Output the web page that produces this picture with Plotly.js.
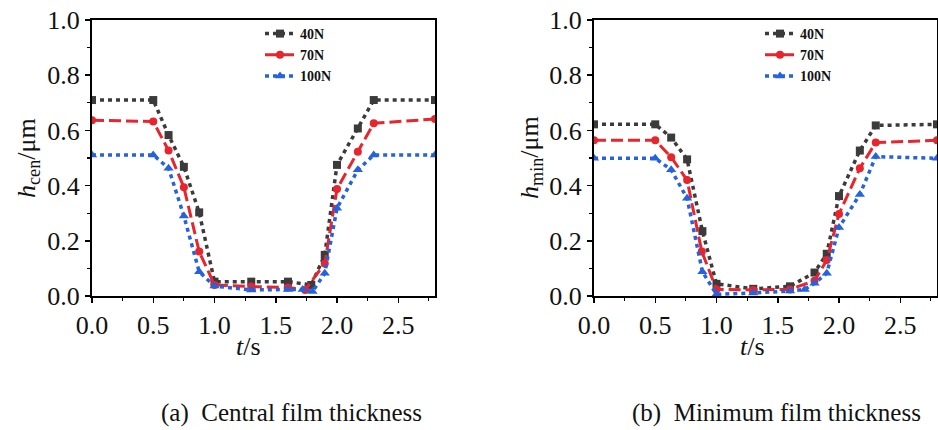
<!DOCTYPE html>
<html>
<head>
<meta charset="utf-8">
<script src="https://cdn.plot.ly/plotly-3.0.1.min.js"></script>
<style>html,body{margin:0;padding:0;background:#fff;}#chart{width:938px;height:430px;}</style>
</head>
<body>
<div id="chart"></div>
<script>
// Series names
const seriesNames = ["40N", "70N", "100N"];

// (a) Central film thickness h_cen (µm) vs t (s)
const tCen40 = [0, 0.5, 0.625, 0.75, 0.875, 1.0, 1.3, 1.6, 1.79, 1.9, 2.0, 2.17, 2.3, 2.8];
const hCen40 = [0.71, 0.71, 0.583, 0.468, 0.303, 0.052, 0.052, 0.052, 0.04, 0.149, 0.475, 0.607, 0.71, 0.71];
const tCen70 = [0, 0.5, 0.625, 0.75, 0.875, 1.0, 1.3, 1.6, 1.74, 1.9, 2.0, 2.17, 2.3, 2.8];
const hCen70 = [0.637, 0.632, 0.527, 0.394, 0.161, 0.04, 0.034, 0.031, 0.022, 0.118, 0.388, 0.523, 0.626, 0.641];
const tCen100 = [0, 0.5, 0.625, 0.75, 0.875, 1.0, 1.3, 1.6, 1.72, 1.8, 1.9, 2.0, 2.17, 2.3, 2.8];
const hCen100 = [0.511, 0.511, 0.463, 0.29, 0.088, 0.036, 0.022, 0.024, 0.024, 0.016, 0.082, 0.318, 0.457, 0.511, 0.511];

// (b) Minimum film thickness h_min (µm) vs t (s)
const tMin40 = [0, 0.5, 0.63, 0.76, 0.885, 1.0, 1.3, 1.6, 1.8, 1.9, 2.0, 2.17, 2.3, 2.8];
const hMin40 = [0.622, 0.622, 0.574, 0.495, 0.235, 0.044, 0.026, 0.035, 0.085, 0.153, 0.362, 0.527, 0.618, 0.622];
const tMin70 = [0, 0.5, 0.63, 0.76, 0.88, 1.0, 1.3, 1.6, 1.8, 1.9, 2.0, 2.17, 2.3, 2.8];
const hMin70 = [0.564, 0.564, 0.503, 0.42, 0.161, 0.024, 0.022, 0.024, 0.055, 0.13, 0.297, 0.463, 0.556, 0.564];
const tMin100 = [0, 0.5, 0.63, 0.76, 0.885, 1.0, 1.3, 1.6, 1.72, 1.8, 1.9, 2.0, 2.17, 2.3, 2.8];
const hMin100 = [0.499, 0.499, 0.457, 0.354, 0.088, 0.006, 0.011, 0.018, 0.024, 0.046, 0.082, 0.248, 0.368, 0.505, 0.499];

// Axis ticks
const xTickVals = [0, 0.5, 1.0, 1.5, 2.0, 2.5];
const xTickText = ["0.0", "0.5", "1.0", "1.5", "2.0", "2.5"];
const yTickVals = [0, 0.2, 0.4, 0.6, 0.8, 1.0];
const yTickText = ["0.0", "0.2", "0.4", "0.6", "0.8", "1.0"];

// Text
const captionA = "(a)  Central film thickness";
const captionB = "(b)  Minimum film thickness";

const SERIF = "Liberation Serif";
const styles = [
  {color: "#3b3b3b", dash: "4px,4px", width: 3.5, symbol: "square", size: 8},
  {color: "#e8242c", dash: "12px,5px", width: 3, symbol: "circle", size: 8},
  {color: "#2462e0", dash: "4px,4px", width: 3.5, symbol: "triangle-up", size: 9}
];

function mk(x, y, i, xa, ya, leg) {
  const s = styles[i];
  return {
    x: x, y: y, type: "scatter", mode: "lines+markers", name: seriesNames[i],
    xaxis: xa, yaxis: ya, legend: leg,
    line: {color: s.color, dash: s.dash, width: s.width},
    marker: {color: s.color, symbol: s.symbol, size: s.size}
  };
}

const data = [
  mk(tCen40, hCen40, 0, "x", "y", "legend"),
  mk(tCen70, hCen70, 1, "x", "y", "legend"),
  mk(tCen100, hCen100, 2, "x", "y", "legend"),
  mk(tMin40, hMin40, 0, "x2", "y2", "legend2"),
  mk(tMin70, hMin70, 1, "x2", "y2", "legend2"),
  mk(tMin100, hMin100, 2, "x2", "y2", "legend2")
];

const yDom = [1 - 296/430, 1 - 20/430];
function xAxis(dom, anchor) {
  return {
    domain: dom, anchor: anchor, range: [0, 2.8], tickvals: xTickVals, ticktext: xTickText,
    ticks: "outside", ticklen: 5, tickwidth: 1.5, tickcolor: "#000",
    minor: {tickvals: [0.25, 0.75, 1.25, 1.75, 2.25, 2.75], ticks: "outside", ticklen: 3, tickwidth: 1.2, tickcolor: "#000", showgrid: false},
    showline: true, linecolor: "#000", linewidth: 2, mirror: true,
    showgrid: false, zeroline: false,
    tickfont: {family: SERIF, size: 26, color: "#111"}
  };
}
function yAxis(anchor) {
  return {
    domain: yDom, anchor: anchor, range: [0, 1.0], tickvals: yTickVals, ticktext: yTickText,
    ticks: "outside", ticklen: 5, tickwidth: 1.5, tickcolor: "#000",
    minor: {tickvals: [0.1, 0.3, 0.5, 0.7, 0.9], ticks: "outside", ticklen: 3, tickwidth: 1.2, tickcolor: "#000", showgrid: false},
    showline: true, linecolor: "#000", linewidth: 2, mirror: true,
    showgrid: false, zeroline: false,
    tickfont: {family: SERIF, size: 26, color: "#111"}
  };
}

const legendBase = {
  font: {family: SERIF, size: 14, color: "#111", weight: "bold"},
  bgcolor: "rgba(0,0,0,0)", borderwidth: 0,
  xanchor: "left", yanchor: "top", itemwidth: 30, tracegroupgap: 0
};

const layout = {
  width: 938, height: 430,
  margin: {l: 0, r: 0, t: 0, b: 0},
  paper_bgcolor: "#fff", plot_bgcolor: "#fff",
  showlegend: true,
  font: {family: SERIF},
  xaxis: xAxis([92/938, 435/938], "y"),
  yaxis: yAxis("x"),
  xaxis2: xAxis([594/938, 937/938], "y2"),
  yaxis2: yAxis("x2"),
  legend: Object.assign({}, legendBase, {x: 260/938, y: 1 - 18/430}),
  legend2: Object.assign({}, legendBase, {x: 760/938, y: 1 - 18/430}),
  annotations: [
    {text: "<i>h</i><sub>cen</sub>/μm", xref: "paper", yref: "paper", x: 28/938, y: 1 - 158/430,
     textangle: -90, showarrow: false, font: {family: SERIF, size: 26, color: "#111"}, xanchor: "center", yanchor: "middle"},
    {text: "<i>h</i><sub>min</sub>/μm", xref: "paper", yref: "paper", x: 531/938, y: 1 - 158/430,
     textangle: -90, showarrow: false, font: {family: SERIF, size: 26, color: "#111"}, xanchor: "center", yanchor: "middle"},
    {text: "<i>t</i>/s", xref: "paper", yref: "paper", x: 248/938, y: 1 - 346/430,
     showarrow: false, font: {family: SERIF, size: 26, color: "#111"}, xanchor: "center", yanchor: "middle"},
    {text: "<i>t</i>/s", xref: "paper", yref: "paper", x: 752/938, y: 1 - 346/430,
     showarrow: false, font: {family: SERIF, size: 26, color: "#111"}, xanchor: "center", yanchor: "middle"},
    {text: captionA, xref: "paper", yref: "paper", x: 291/938, y: 1 - 413/430,
     showarrow: false, font: {family: SERIF, size: 25, color: "#111"}, xanchor: "center", yanchor: "middle"},
    {text: captionB, xref: "paper", yref: "paper", x: 776/938, y: 1 - 413/430,
     showarrow: false, font: {family: SERIF, size: 25, color: "#111"}, xanchor: "center", yanchor: "middle"}
  ]
};

Plotly.newPlot("chart", data, layout, {displayModeBar: false, staticPlot: true});
</script>
</body>
</html>
